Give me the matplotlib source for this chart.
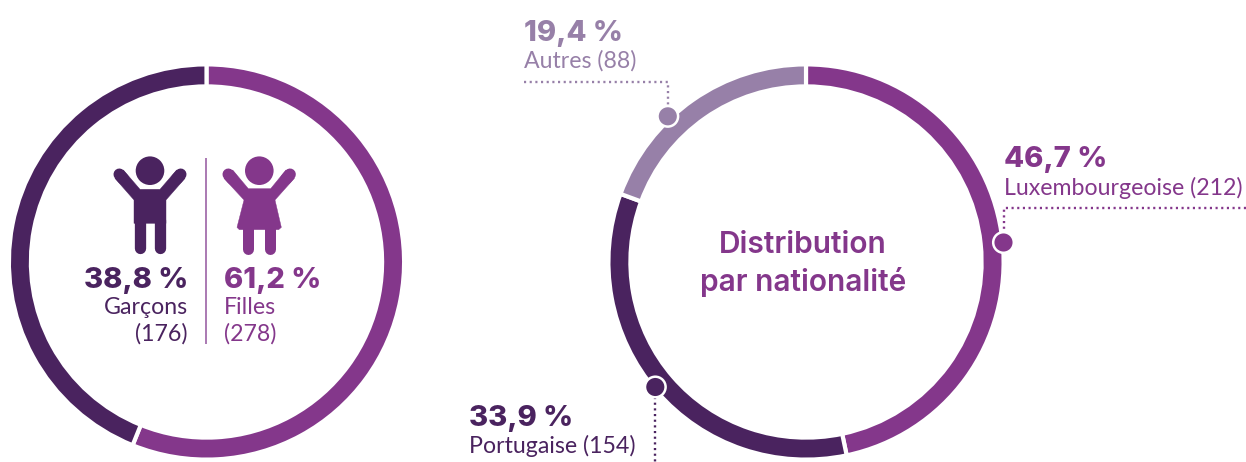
import matplotlib
matplotlib.use("Agg")
import numpy as np
import matplotlib.pyplot as plt
from matplotlib.patches import Circle, Polygon

H = 462
DARK, PURPLE, LIGHT = "#4A235F", "#84378B", "#9780A8"

# Values
gender_arc_shares = [56.1, 43.9]   # as drawn in the picture
gender_colors = [PURPLE, DARK]
nat_shares = [46.7, 33.9, 19.4]
nat_colors = [PURPLE, DARK, LIGHT]
nat_labels = ["Luxembourgeoise (212)", "Portugaise (154)", "Autres (88)"]
nat_pcts = ["46,7 %", "33,9 %", "19,4 %"]
gender_pcts = ["38,8 %", "61,2 %"]

fig = plt.figure(figsize=(12.46, 4.62), dpi=100)
ax = fig.add_axes([0, 0, 1, 1])

def Y(y):
    return H - y

R, W = 197.6, 22
for vals, cols, cx in ((gender_arc_shares, gender_colors, 206.5), (nat_shares, nat_colors, 806)):
    ax.pie(vals, colors=cols, center=(cx, Y(262)), radius=R, startangle=90, counterclock=False,
           frame=True, wedgeprops=dict(width=W, edgecolor="white", linewidth=3.0))
ax.set_xlim(0, 1246)
ax.set_ylim(0, H)
ax.set_aspect("equal")
ax.axis("off")

BIG_FONT = "Inter"
SMALL_FONT = "Lato"
def big(x, y, s, c, ha="left"):
    ax.text(x, Y(y), s, color=c, ha=ha, va="baseline", fontsize=21, fontweight="heavy", family=BIG_FONT)
def small(x, y, s, c, ha="left"):
    ax.text(x, Y(y), s, color=c, ha=ha, va="baseline", fontsize=16.7, fontweight="normal", family=SMALL_FONT)

# left panel text
big(188, 288, gender_pcts[0], DARK, "right")
small(188, 314, "Garçons", DARK, "right")
small(188, 341, "(176)", DARK, "right")
big(224, 288, gender_pcts[1], PURPLE)
small(224, 314, "Filles", PURPLE)
small(224, 341, "(278)", PURPLE)
ax.plot([206, 206], [Y(158), Y(344)], color="#9C62A5", lw=1.2, solid_capstyle="butt")

# icons
def z(x, y):
    return (x / 3 + 80, y / 3 + 140)

def line(pts, c, w):
    xs, ys = zip(*[z(*p) for p in pts])
    ax.plot(xs, [Y(v) for v in ys], color=c, lw=w * 0.72, solid_capstyle="round")

def poly(pts, c):
    ax.add_patch(Polygon([(x, Y(y)) for x, y in (z(*p) for p in pts)], closed=True, fc=c, ec=c, lw=0.3))

# boy
ax.add_patch(Circle((150, Y(170.7)), 14.3, fc=DARK, ec="none"))
poly([(130, 90), (180, 148), (240, 148), (290, 90), (315, 115), (258, 180), (258, 250),
      (162, 250), (162, 180), (105, 115)], DARK)
line([(118, 103), (130, 117)], DARK, 11.7)
line([(302, 103), (290, 117)], DARK, 11.7)
line([(179, 240), (179, 325)], DARK, 11.3)
line([(241, 240), (241, 325)], DARK, 11.3)

# girl
ax.add_patch(Circle((259.3, Y(170.7)), 14.3, fc=PURPLE, ec="none"))
poly([(458, 90), (505, 146), (572, 146), (618, 90), (643, 115), (585, 180), (604, 262), (596, 269),
      (478, 269), (471, 262), (492, 180), (432, 115)], PURPLE)
line([(445, 103), (457, 117)], PURPLE, 11.7)
line([(630, 103), (618, 117)], PURPLE, 11.7)
line([(504, 260), (504, 326)], PURPLE, 11)
line([(570, 260), (570, 326)], PURPLE, 11)

# right panel text
for s, y in (("Distribution", 253), ("par nationalité", 291)):
    ax.text(803, Y(y), s, color=PURPLE, ha="center", va="baseline", fontsize=21.5, fontweight="semibold", family="Inter")

big(1004, 167, nat_pcts[0], PURPLE)
small(1004, 195, nat_labels[0], PURPLE)
big(469, 426, nat_pcts[1], DARK)
small(469, 453, nat_labels[1], DARK)
big(524, 41, nat_pcts[2], LIGHT)
small(524, 68, nat_labels[2], LIGHT)

# leaders and dots
def leader(pts, c):
    xs, ys = zip(*pts)
    ax.plot(xs, [Y(v) for v in ys], color=c, lw=1.7, ls=(0, (0.9, 1.5)))

leader([(1246, 208), (1004, 208), (1004, 232)], PURPLE)
leader([(655, 397), (655, 462)], DARK)
leader([(524, 82), (668, 82), (668, 106)], LIGHT)
for x, y, c in ((1003.5, 242.5, PURPLE), (655.3, 387, DARK), (667.8, 116.3, LIGHT)):
    ax.add_patch(Circle((x, Y(y)), 10.3, fc=c, ec="white", lw=1.8, zorder=5))

fig.savefig("out.png", dpi=100, facecolor="white")
